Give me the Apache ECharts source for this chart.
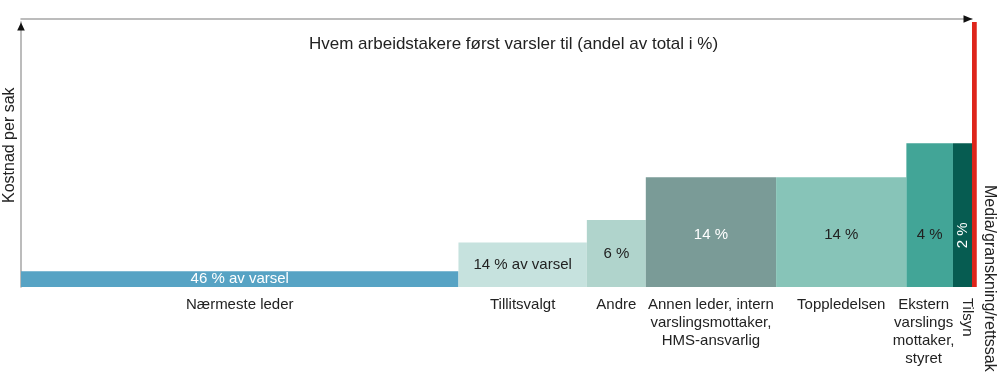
<!DOCTYPE html>
<html>
<head>
<meta charset="utf-8">
<script src="https://cdn.jsdelivr.net/npm/echarts@6/dist/echarts.min.js"></script>
<style>
html,body{margin:0;padding:0;background:#fff;}
#chart{width:1000px;height:381px;}
</style>
</head>
<body>
<div id="chart"></div>
<script>
// ---- data ----
const categories = ['Nærmeste leder', 'Tillitsvalgt', 'Andre', 'Annen leder, intern\nvarslingsmottaker,\nHMS-ansvarlig', 'Toppledelsen', 'Ekstern\nvarslings\nmottaker,\nstyret', 'Tilsyn'];
const shares = [46, 13.5, 6.2, 13.7, 13.7, 4.9, 2.0];           // share of first reports (bar widths, % of total)
const costs = [5.9, 16.8, 25.3, 41.4, 41.4, 54.2, 54.2];         // relative cost per case (bar heights)
const barLabels = ['46 % av varsel', '14 % av varsel', '6 %', '14 %', '14 %', '4 %', '2 %'];
const mediaCategory = 'Media/granskning/rettssak';
const mediaShare = 0.5;
const mediaCost = 100;
const titleText = 'Hvem arbeidstakere først varsler til (andel av total i %)';
const yName = 'Kostnad per sak';

// ---- styles ----
const palette = ['#57a3c4', '#c6e2de', '#b0d4cc', '#7a9b97', '#87c4b8', '#42a597', '#065c51'];
const labelColors = ['#ffffff', '#222222', '#222222', '#ffffff', '#222222', '#222222', '#ffffff'];
const catLabelShift = [0, 0, 0, 0, 0, -6, 0];
const mediaColor = '#de251b';
const FONT = '"Liberation Sans", Arial, sans-serif';

// build items from data
const items = [];
let acc = 0;
for (let i = 0; i < shares.length; i++) {
  items.push([acc, acc + shares[i], costs[i], i]);
  acc += shares[i];
}
const total = acc;
items.push([total, total + mediaShare, mediaCost, -1]);

const chart = echarts.init(document.getElementById('chart'), null, {renderer: 'canvas'});

function renderBar(params, api) {
  const i = api.value(3);
  const p0 = api.coord([api.value(0), 0]);
  const p1 = api.coord([api.value(1), api.value(2)]);
  const w = p1[0] - p0[0];
  const h = p0[1] - p1[1];
  const cx = (p0[0] + p1[0]) / 2;
  const children = [];
  if (i < 0) {
    children.push({type: 'rect', shape: {x: p0[0], y: p1[1], width: w, height: h}, style: {fill: mediaColor}});
    children.push({type: 'text', x: p1[0] + 13, y: p0[1] - 102, rotation: -Math.PI / 2,
      style: {text: mediaCategory, x: 0, y: 0, align: 'left', verticalAlign: 'middle', fill: '#222', font: '16px ' + FONT}});
    return {type: 'group', children: children};
  }
  children.push({type: 'rect', shape: {x: p0[0], y: p1[1], width: w, height: h}, style: {fill: palette[i]}});
  // value label inside the bar
  const ly = api.coord([0, Math.min(api.value(2) / 2, 19.5)])[1];
  if (i === shares.length - 1) {
    children.push({type: 'text', x: cx, y: ly, rotation: Math.PI / 2,
      style: {text: barLabels[i], x: 0, y: 0, align: 'center', verticalAlign: 'middle', fill: labelColors[i], font: '15px ' + FONT}});
    children.push({type: 'text', x: cx + 5, y: p0[1] + 11, rotation: -Math.PI / 2,
      style: {text: categories[i], x: 0, y: 0, align: 'left', verticalAlign: 'middle', fill: '#222', font: '15px ' + FONT}});
  } else {
    children.push({type: 'text',
      style: {text: barLabels[i], x: cx, y: ly, align: 'center', verticalAlign: 'middle', fill: labelColors[i], font: '15px ' + FONT}});
    children.push({type: 'text',
      style: {text: categories[i], x: cx + catLabelShift[i], y: p0[1] + 9, align: 'center', verticalAlign: 'top', fill: '#222', font: '15px ' + FONT, lineHeight: 18}});
  }
  return {type: 'group', children: children};
}

function renderDecor(params, api) {
  const o = api.coord([0, 0]);
  const t = api.coord([0, 100]);
  const r = api.coord([100, 100]);
  const ay = t[1] - 3;
  return {type: 'group', children: [
    {type: 'polygon', shape: {points: [[o[0], t[1] + 0.5], [o[0] - 3.8, t[1] + 8.5], [o[0] + 3.8, t[1] + 8.5]]}, style: {fill: '#111'}},
    {type: 'polygon', shape: {points: [[r[0] + 0.5, ay], [r[0] - 8.5, ay - 3.8], [r[0] - 8.5, ay + 3.8]]}, style: {fill: '#111'}},
    {type: 'text', x: o[0] - 11, y: o[1] + (t[1] - o[1]) * 0.535, rotation: Math.PI / 2,
      style: {text: yName, x: 0, y: 0, align: 'center', verticalAlign: 'middle', fill: '#222', font: '16px ' + FONT}}
  ]};
}

chart.setOption({
  animation: false,
  backgroundColor: '#ffffff',
  title: {
    text: titleText, left: 304, top: 31,
    textStyle: {fontFamily: FONT, fontSize: 17, fontWeight: 'normal', color: '#222'}
  },
  grid: {left: 21, right: 28, top: 22, bottom: 94},
  xAxis: {
    type: 'value', min: 0, max: 100, position: 'top', offset: 3,
    axisLine: {show: true, onZero: false, lineStyle: {color: '#a6a6a6', width: 1.5}},
    axisTick: {show: false}, axisLabel: {show: false}, splitLine: {show: false}
  },
  yAxis: {
    type: 'value', min: 0, max: 100,
    axisLine: {show: true, onZero: false, lineStyle: {color: '#a6a6a6', width: 1.5}},
    axisTick: {show: false}, axisLabel: {show: false}, splitLine: {show: false}
  },
  series: [
    {type: 'custom', clip: false, renderItem: renderBar, data: items, encode: {x: [0, 1], y: 2}, silent: true},
    {type: 'custom', clip: false, renderItem: renderDecor, data: [[0, 0]], silent: true, z: 5}
  ]
});
</script>
</body>
</html>
